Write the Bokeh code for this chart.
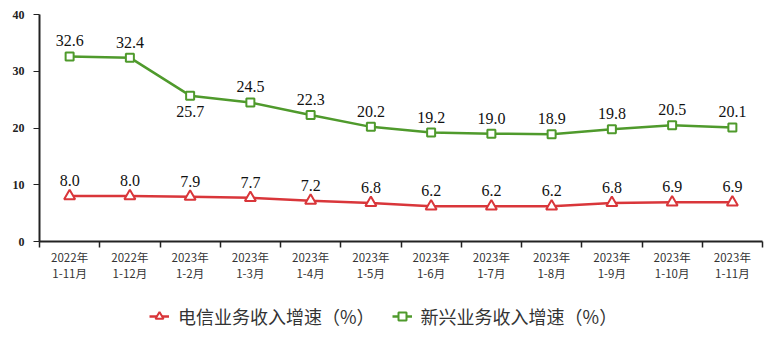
from bokeh.plotting import figure
from bokeh.layouts import column
from bokeh.models import ColumnDataSource, FixedTicker, Legend, LegendItem, LabelSet, Range1d
from bokeh.embed import file_html
from bokeh.resources import INLINE

categories = ["2022年\n1-11月", "2022年\n1-12月", "2023年\n1-2月", "2023年\n1-3月",
              "2023年\n1-4月", "2023年\n1-5月", "2023年\n1-6月", "2023年\n1-7月",
              "2023年\n1-8月", "2023年\n1-9月", "2023年\n1-10月", "2023年\n1-11月"]
telecom = [8.0, 8.0, 7.9, 7.7, 7.2, 6.8, 6.2, 6.2, 6.2, 6.8, 6.9, 6.9]
emerging = [32.6, 32.4, 25.7, 24.5, 22.3, 20.2, 19.2, 19.0, 18.9, 19.8, 20.5, 20.1]
series_names = ["电信业务收入增速（%）", "新兴业务收入增速（%）"]
y_ticks = [0, 10, 20, 30, 40]

RED = "#d9363a"
GREEN = "#4f9a2c"

n = len(categories)
xs = [i + 0.5 for i in range(n)]
emerging_label_below = [False, False, True] + [False] * (n - 3)

p = figure(width=767, height=290, output_backend="svg", toolbar_location=None,
           x_range=Range1d(0, n), y_range=Range1d(0, 40),
           min_border_left=39, min_border_right=5, min_border_top=14, min_border_bottom=49)
p.outline_line_color = None
p.xgrid.visible = False
p.ygrid.visible = False
p.background_fill_color = "white"

red_src = ColumnDataSource(dict(x=xs, y=telecom, t=[f"{v:.1f}" for v in telecom],
                                off=[10] * n))
green_src = ColumnDataSource(dict(x=xs, y=emerging, t=[f"{v:.1f}" for v in emerging],
                                  off=[-21 if b else 10 for b in emerging_label_below]))

line_style = dict(line_width=2.5)
red_marker = dict(marker="triangle", size=11, line_color=RED, fill_color="white", line_width=2)
green_marker = dict(marker="square", size=8, line_color=GREEN, fill_color="white", line_width=2)

p.line("x", "y", source=red_src, line_color=RED, **line_style)
p.scatter("x", "y", source=red_src, **red_marker)
p.line("x", "y", source=green_src, line_color=GREEN, **line_style)
p.scatter("x", "y", source=green_src, **green_marker)

for src in (red_src, green_src):
    ls = LabelSet(x="x", y="y", text="t", source=src, y_offset="off",
                  text_align="center", text_baseline="bottom",
                  text_font="Liberation Serif", text_font_size="16px", text_color="#111111")
    p.add_layout(ls)

# y axis
p.yaxis.ticker = FixedTicker(ticks=y_ticks)
p.yaxis.axis_line_color = "#222222"
p.yaxis.axis_line_width = 2
p.yaxis.major_tick_line_color = "#222222"
p.yaxis.major_tick_in = 0
p.yaxis.major_tick_out = 6
p.yaxis.minor_tick_line_color = None
p.yaxis.major_label_text_font = "Liberation Serif"
p.yaxis.major_label_text_font_style = "bold"
p.yaxis.major_label_text_font_size = "12px"
p.yaxis.major_label_text_color = "#222222"
p.yaxis.major_label_standoff = 9

# x axis
p.xaxis.ticker = FixedTicker(ticks=xs, minor_ticks=list(range(n + 1)))
p.xaxis.major_label_overrides = {x: c for x, c in zip(xs, categories)}
p.xaxis.axis_line_color = "#222222"
p.xaxis.axis_line_width = 2
p.xaxis.major_tick_line_color = None
p.xaxis.major_tick_in = 0
p.xaxis.major_tick_out = 0
p.xaxis.minor_tick_line_color = "#222222"
p.xaxis.minor_tick_line_width = 1.5
p.xaxis.minor_tick_in = 0
p.xaxis.minor_tick_out = 6
p.xaxis.major_label_text_font = "Noto Sans CJK SC"
p.xaxis.major_label_text_font_size = "11.5px"
p.xaxis.major_label_text_line_height = 1.0
p.xaxis.major_label_text_color = "#333333"
p.xaxis.major_label_standoff = 1

# legend figure (below the chart)
lf = figure(width=767, height=63, output_backend="svg", toolbar_location=None,
            x_axis_type=None, y_axis_type=None, x_range=Range1d(0, 1), y_range=Range1d(0, 1),
            min_border=0)
lf.outline_line_color = None
lf.xgrid.visible = False
lf.ygrid.visible = False
hidden = ColumnDataSource(dict(x=[-5, -6], y=[-5, -6]))
lrl = lf.line("x", "y", source=hidden, line_color=RED, **line_style)
lrm = lf.scatter("x", "y", source=hidden, **red_marker)
lgl = lf.line("x", "y", source=hidden, line_color=GREEN, **line_style)
lgm = lf.scatter("x", "y", source=hidden, **green_marker)
legend = Legend(items=[LegendItem(label=series_names[0], renderers=[lrl, lrm]),
                       LegendItem(label=series_names[1], renderers=[lgl, lgm])],
                orientation="horizontal", location=(110, 24),
                label_text_font="Noto Sans CJK SC", label_text_font_size="18px",
                label_text_color="#333333", border_line_color=None,
                background_fill_alpha=0, spacing=17, glyph_width=20, label_standoff=9,
                margin=0, padding=0)
lf.add_layout(legend, "center")

layout = column(p, lf, spacing=0)
open("out.html", "w").write(file_html(layout, INLINE))
